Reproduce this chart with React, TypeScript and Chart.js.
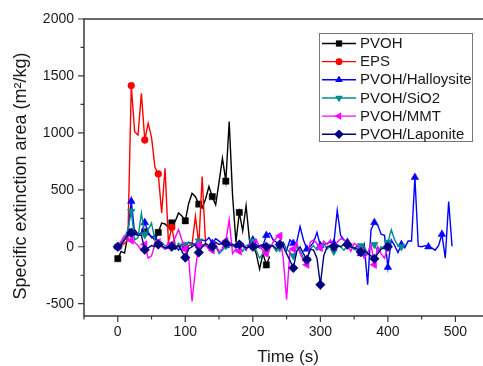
import React, { useEffect, useRef } from 'react';
import { Chart, registerables } from 'chart.js';

Chart.register(...registerables);

// Time axis (s), sampled every 5 s
const times = [
  0, 5, 10, 15, 20, 25, 30, 35, 40, 45,
  50, 55, 60, 65, 70, 75, 80, 85, 90, 95,
  100, 105, 110, 115, 120, 125, 130, 135, 140, 145,
  150, 155, 160, 165, 170, 175, 180, 185, 190, 195,
  200, 205, 210, 215, 220, 225, 230, 235, 240, 245,
  250, 255, 260, 265, 270, 275, 280, 285, 290, 295,
  300, 305, 310, 315, 320, 325, 330, 335, 340, 345,
  350, 355, 360, 365, 370, 375, 380, 385, 390, 395,
  400, 405, 410, 415, 420, 425, 430, 435, 440, 445,
  450, 455, 460, 465, 470, 475, 480, 485, 490, 495,
];

const pvohValues = [
  -105, -41, -55, 100, 130, 150, 110, 120, 130, 110,
  90, 60, 126, 208, 200, 170, 210, 222, 296, 270,
  228, 380, 470, 440, 375, 340, 420, 529, 440, 368,
  570, 778, 576, 1099, 450, 40, 301, 140, 360, 60,
  20, -60, -196, -60, -160, -85,
];

const epsValues = [
  0, 10, 30, 60, 1415, 1011, 982, 1348, 938, 1085,
  960, 700, 640, 296, 690, 40, 170, 10, 0, 20,
  -10, 10, 20, 266, 20, 617, 20,
];

const halloysiteValues = [
  0, 20, 60, 120, 400, 120, 110, 120, 213, 130,
  80, 100, 30, 10, -20, -10, 10, 0, -30, 20,
  0, 40, 30, 20, 10, 60, 50, 80, 30, 70,
  50, 20, 10, 30, 20, -10, 20, 10, -30, 30,
  60, 20, -10, 10, 100, 120, 60, 40, 20, 40,
  -30, 60, 30, 40, 178, 60, -20, 0, 40, 126,
  10, 20, 30, 40, 30, 319, 100, 60, 40, 0,
  -20, 10, -60, 20, -333, 150, 213, 190, 110, 100,
  -180, 60, 10, -50, 20, -10, 50, 50, 610, 5,
  0, 10, 0, -10, -30, 10, 110, -100, 397, 5,
];

const sio2Values = [
  0, 30, 80, 150, 310, 60, 80, 295, 105, 150,
  208, 60, 20, 40, 10, 0, 20, -20, 30, 10,
  20, 40, 0, 30, 50, 10, 20, -10, -20, 0,
  -60, -30, 10, 20, 0, 30, 10, -40, 10, 20,
  50, -30, -100, -60, -50, 20, 0, -40, -10, 30,
  -20, -50, -80, 0, -30, -100, -114, -20, 10, -30,
  0, 30, -20, 10, -40, 20, 0, -30, 10, 20,
  -20, -40, 10, 0, -60, 30, 20, -40, 0, -20,
  40, 149, 60, 10, 0,
];

const mmtValues = [
  0, 50, 100, 80, 55, 40, 10, -30, 20, -100,
  -80, 20, 40, 0, -20, 40, 20, 80, 149, 60,
  -20, -100, -480, -200, 20, 0, 10, -20, -30, 20,
  -40, -20, 50, 237, -60, -20, -40, 30, -20, 10,
  20, 60, 0, -30, -60, -20, 40, 80, 96, -100,
  -465, -30, -20, 40, -60, -120, -158, 40, 60, 30,
  -10, 50, 20, 60, 0, 40, 70, 60, 20, -40,
  30, 10, -40, -100, -60, 20, -158, 0, -60, -100,
  0,
];

const laponiteValues = [
  0, 20, 60, 100, 120, 110, 100, 100, -26, -10,
  10, 0, 20, 10, -10, 0, 0, -20, 10, -40,
  -95, -20, 0, 20, -50, 0, 30, 10, 0, 40,
  20, 30, 32, 10, 20, 0, 20, 10, -10, 0,
  0, -10, 10, 20, 0, 0, 10, -20, 20, 0,
  -60, -120, -187, -40, 0, -60, -114, -20, -30, -100,
  -333, -80, 0, 10, 0, 10, 0, 20, 20, 0,
  -10, -20, -47, -30, -60, -80, -105, -60, -20, -10,
  0,
];

const seriesNames = ['PVOH', 'EPS', 'PVOH/Halloysite', 'PVOH/SiO2', 'PVOH/MMT', 'PVOH/Laponite'];

const xTickValues = [-50, 0, 50, 100, 150, 200, 250, 300, 350, 400, 450, 500];
const yTickValues = [-500, -250, 0, 250, 500, 750, 1000, 1250, 1500, 1750, 2000];

const xTitle = 'Time (s)';
const yTitle = 'Specific extinction area (m\u00B2/kg)';

const FONT = '"Liberation Sans", Arial, sans-serif';

type Style = { color: string; shape: string; rotation: number; radius: number; order: number };
const styles: Style[] = [
  { color: '#000000', shape: 'rect', rotation: 0, radius: 4.4, order: 6 },
  { color: '#ff0000', shape: 'circle', rotation: 0, radius: 3.4, order: 5 },
  { color: '#0000ff', shape: 'triangle', rotation: 0, radius: 4.4, order: 4 },
  { color: '#008c8c', shape: 'triangle', rotation: 180, radius: 4.4, order: 3 },
  { color: '#ff00ff', shape: 'triangle', rotation: 270, radius: 4.4, order: 2 },
  { color: '#000080', shape: 'rectRot', rotation: 0, radius: 4.8, order: 1 },
];

const seriesValues = [pvohValues, epsValues, halloysiteValues, sio2Values, mmtValues, laponiteValues];

function drawMarker(ctx: CanvasRenderingContext2D, s: Style, x: number, y: number) {
  const r = s.radius;
  ctx.beginPath();
  if (s.shape === 'rect') {
    const side = r * Math.SQRT2;
    ctx.rect(x - side / 2, y - side / 2, side, side);
  } else if (s.shape === 'circle') {
    ctx.arc(x, y, r, 0, Math.PI * 2);
  } else if (s.shape === 'triangle') {
    for (let i = 0; i < 3; i++) {
      const a = (s.rotation * Math.PI) / 180 + (i * 2 * Math.PI) / 3;
      const vx = x + Math.sin(a) * r;
      const vy = y - Math.cos(a) * r;
      if (i === 0) ctx.moveTo(vx, vy);
      else ctx.lineTo(vx, vy);
    }
    ctx.closePath();
  } else {
    ctx.moveTo(x, y - r);
    ctx.lineTo(x + r, y);
    ctx.lineTo(x, y + r);
    ctx.lineTo(x - r, y);
    ctx.closePath();
  }
  ctx.fillStyle = s.color;
  ctx.fill();
}

const framePlugin = {
  id: 'originFrame',
  afterDraw(chart: any) {
    const { ctx, chartArea: a, scales } = chart;
    const xs = scales.x;
    const ys = scales.y;
    ctx.save();
    // frame
    ctx.strokeStyle = '#3a3a3a';
    ctx.lineWidth = 1.5;
    ctx.beginPath();
    ctx.moveTo(a.left, a.top);
    ctx.lineTo(chart.width, a.top);
    ctx.moveTo(a.left, a.top - 0.75);
    ctx.lineTo(a.left, a.bottom);
    ctx.lineTo(chart.width, a.bottom);
    ctx.stroke();
    // tick marks
    ctx.lineWidth = 1.2;
    ctx.beginPath();
    xTickValues.forEach((v) => {
      const px = xs.getPixelForValue(v);
      const len = v % 100 === 0 ? 6 : 3.5;
      ctx.moveTo(px, a.bottom);
      ctx.lineTo(px, a.bottom + len);
    });
    yTickValues.forEach((v) => {
      const py = ys.getPixelForValue(v);
      const len = v % 500 === 0 ? 6 : 3.5;
      ctx.moveTo(a.left, py);
      ctx.lineTo(a.left - len, py);
    });
    ctx.stroke();

    // axis titles
    ctx.fillStyle = '#1a1a1a';
    ctx.font = `17px ${FONT}`;
    ctx.textAlign = 'center';
    ctx.textBaseline = 'middle';
    ctx.fillText(xTitle, 288, 357);
    ctx.save();
    ctx.translate(21, 176);
    ctx.rotate(-Math.PI / 2);
    ctx.font = `18px ${FONT}`;
    ctx.fillText(yTitle, 0, 0);
    ctx.restore();

    // legend
    const bx = 319.5, by = 33.5, bw = 153, bh = 108;
    ctx.fillStyle = '#ffffff';
    ctx.fillRect(bx, by, bw, bh);
    ctx.strokeStyle = '#777777';
    ctx.lineWidth = 1;
    ctx.strokeRect(bx, by, bw, bh);
    ctx.font = `15px ${FONT}`;
    ctx.textAlign = 'left';
    ctx.textBaseline = 'middle';
    seriesNames.forEach((name, i) => {
      const s = styles[i];
      const ry = 43.5 + i * 18.15;
      ctx.strokeStyle = s.color;
      ctx.lineWidth = 1.4;
      ctx.beginPath();
      ctx.moveTo(322, ry);
      ctx.lineTo(356, ry);
      ctx.stroke();
      drawMarker(ctx, s, 339, ry);
      ctx.fillStyle = '#1a1a1a';
      ctx.fillText(name, 360, ry + 0.5);
    });
    ctx.restore();
  },
};

export default function App() {
  const canvasRef = useRef<HTMLCanvasElement | null>(null);

  useEffect(() => {
    const canvas = canvasRef.current;
    if (!canvas) return;
    const datasets = seriesNames.map((name, i) => {
      const s = styles[i];
      const vals = seriesValues[i];
      return {
        label: name,
        data: vals.map((v, j) => ({ x: times[j], y: v })),
        borderColor: s.color,
        backgroundColor: s.color,
        borderWidth: 1.4,
        pointStyle: s.shape,
        rotation: s.rotation,
        pointBackgroundColor: s.color,
        pointBorderColor: s.color,
        pointBorderWidth: 0.5,
        pointRadius: (c: any) => (c.dataIndex % 4 === 0 ? s.radius : 0),
        pointHoverRadius: 0,
        tension: 0,
        order: s.order,
      };
    });

    const chart = new Chart(canvas, {
      type: 'line',
      data: { datasets } as any,
      options: {
        animation: false,
        responsive: false,
        maintainAspectRatio: false,
        layout: { padding: { top: 19, right: 1, left: 0, bottom: 0 } },
        plugins: {
          legend: { display: false },
          tooltip: { enabled: false },
        },
        scales: {
          x: {
            type: 'linear',
            min: -50,
            max: 533,
            afterBuildTicks: (s: any) => {
              s.ticks = xTickValues.map((v) => ({ value: v }));
            },
            afterFit: (s: any) => {
              s.height = 50;
            },
            grid: { drawOnChartArea: false, drawTicks: false },
            border: { display: false },
            ticks: {
              autoSkip: false,
              maxRotation: 0,
              padding: 8,
              color: '#1a1a1a',
              font: { family: FONT, size: 14 },
              callback: (v: any) => (Number(v) % 100 === 0 ? String(v) : ''),
            },
          },
          y: {
            type: 'linear',
            min: -608,
            max: 2000,
            afterBuildTicks: (s: any) => {
              s.ticks = yTickValues.map((v) => ({ value: v }));
            },
            afterFit: (s: any) => {
              s.width = 84;
            },
            grid: { drawOnChartArea: false, drawTicks: false },
            border: { display: false },
            ticks: {
              autoSkip: false,
              padding: 10,
              color: '#1a1a1a',
              font: { family: FONT, size: 14 },
              callback: (v: any) => (Number(v) % 500 === 0 ? String(v) : ''),
            },
          },
        },
      } as any,
      plugins: [framePlugin],
    });
    return () => chart.destroy();
  }, []);

  return (
    <div style={{ position: 'fixed', left: 0, top: 0, width: 483, height: 366, background: '#fff' }}>
      <canvas ref={canvasRef} width={483} height={366} style={{ display: 'block' }} />
    </div>
  );
}
